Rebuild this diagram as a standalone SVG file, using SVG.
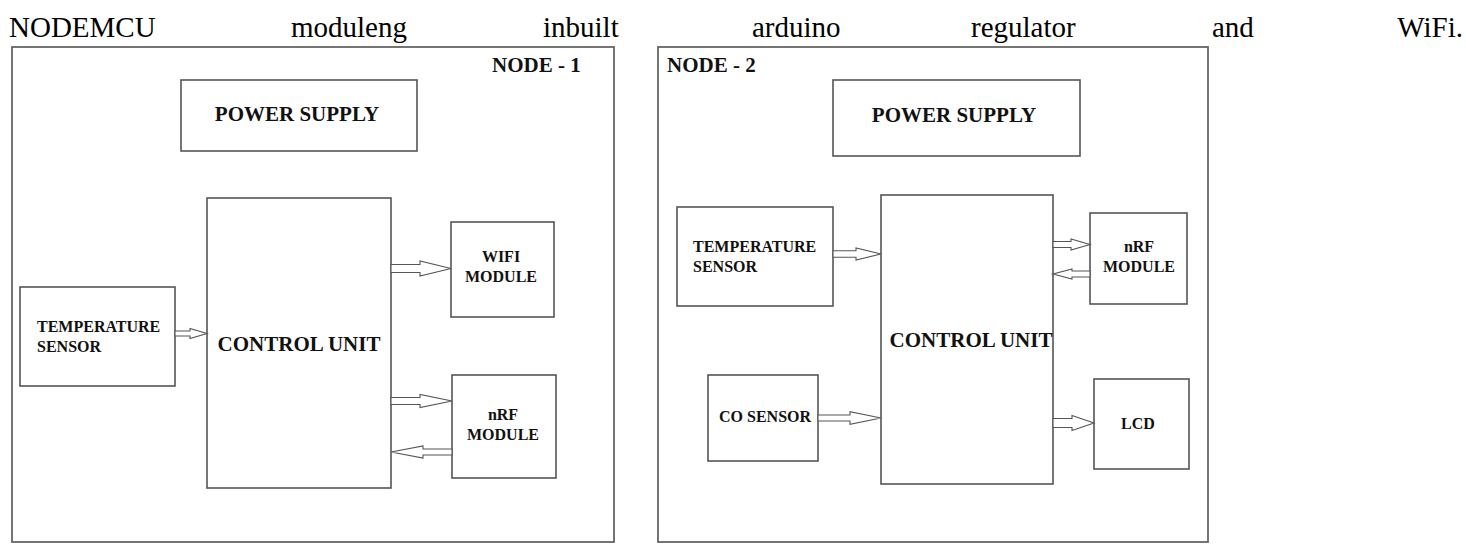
<svg xmlns="http://www.w3.org/2000/svg" width="1466" height="544" viewBox="0 0 1466 544">
<style>
.box{fill:#fff;stroke:#555;stroke-width:1.6}
.outer{fill:#fff;stroke:#666;stroke-width:1.8}
.arr{fill:#fff;stroke:#555;stroke-width:1.1;stroke-linejoin:miter}
.big{font-family:"Liberation Serif","Times New Roman",serif;font-weight:bold;font-size:21px;fill:#111}
.sm{font-family:"Liberation Serif","Times New Roman",serif;font-weight:bold;font-size:16px;fill:#111}
.hdr{font-family:"Liberation Serif","Times New Roman",serif;font-size:29px;fill:#000}
.mid{text-anchor:middle}
</style>
<rect width="1466" height="544" fill="#fff"/>
<g id="caption" class="hdr">
<text x="9" y="37">NODEMCU</text>
<text x="291" y="37">moduleng</text>
<text x="543" y="37">inbuilt</text>
<text x="752" y="37">arduino</text>
<text x="971" y="37">regulator</text>
<text x="1212" y="37">and</text>
<text x="1463" y="37" text-anchor="end">WiFi.</text>
</g>
<g id="node1">
<rect class="outer" x="12" y="47" width="602" height="495"/>
<text class="big" x="492" y="72">NODE - 1</text>
</g>
<g id="node2">
<rect class="outer" x="658" y="47" width="550" height="495"/>
<text class="big" x="667" y="72">NODE - 2</text>
</g>
<g id="n1-power"><rect class="box" x="181" y="80" width="236" height="71"/><text class="big mid" x="297" y="121">POWER SUPPLY</text></g>
<g id="n1-control"><rect class="box" x="207" y="198" width="184" height="290"/><text class="big mid" x="299" y="351">CONTROL UNIT</text></g>
<g id="n1-temp"><rect class="box" x="20" y="287" width="155" height="99"/><text class="sm" x="37" y="332">TEMPERATURE</text><text class="sm" x="37" y="352">SENSOR</text></g>
<g id="n1-wifi"><rect class="box" x="451" y="222" width="103" height="95"/><text class="sm mid" x="501" y="262">WIFI</text><text class="sm mid" x="501" y="282">MODULE</text></g>
<g id="n1-nrf"><rect class="box" x="452" y="375" width="104" height="103"/><text class="sm mid" x="503" y="420">nRF</text><text class="sm mid" x="503" y="440">MODULE</text></g>
<g id="n2-power"><rect class="box" x="833" y="80" width="247" height="76"/><text class="big mid" x="954" y="122">POWER SUPPLY</text></g>
<g id="n2-control"><rect class="box" x="881" y="195" width="172" height="289"/><text class="big mid" x="971" y="347">CONTROL UNIT</text></g>
<g id="n2-temp"><rect class="box" x="677" y="207" width="156" height="99"/><text class="sm" x="693" y="252">TEMPERATURE</text><text class="sm" x="693" y="272">SENSOR</text></g>
<g id="n2-co"><rect class="box" x="708" y="375" width="110" height="86"/><text class="sm" x="719" y="422">CO SENSOR</text></g>
<g id="n2-nrf"><rect class="box" x="1090" y="213" width="97" height="91"/><text class="sm mid" x="1139" y="252">nRF</text><text class="sm mid" x="1139" y="272">MODULE</text></g>
<g id="n2-lcd"><rect class="box" x="1094" y="379" width="95" height="90"/><text class="sm mid" x="1138" y="429">LCD</text></g>
<g id="connectors">
<polygon class="arr" points="175,331 190,331 190,328.5 207,333.5 190,338.5 190,336 175,336"/>
<polygon class="arr" points="391,264.5 420,264.5 420,261 451,268.5 420,276 420,272.5 391,272.5"/>
<polygon class="arr" points="391,397.5 420,397.5 420,394.5 452,401 420,407.5 420,404.5 391,404.5"/>
<polygon class="arr" points="452,449 423,449 423,446 391,452 423,458 423,455 452,455"/>
<polygon class="arr" points="833,250.7 856,250.7 856,248 881,254 856,260 856,257.3 833,257.3"/>
<polygon class="arr" points="818,415 850,415 850,411.7 881,418 850,424.3 850,421 818,421"/>
<polygon class="arr" points="1053,241.5 1071,241.5 1071,239 1090,244.5 1071,250 1071,247.5 1053,247.5"/>
<polygon class="arr" points="1090,271 1072,271 1072,269 1053,274 1072,279 1072,277 1090,277"/>
<polygon class="arr" points="1053,418.5 1072,418.5 1072,415.5 1094,423 1072,430.5 1072,427.5 1053,427.5"/>
</g>
</svg>
